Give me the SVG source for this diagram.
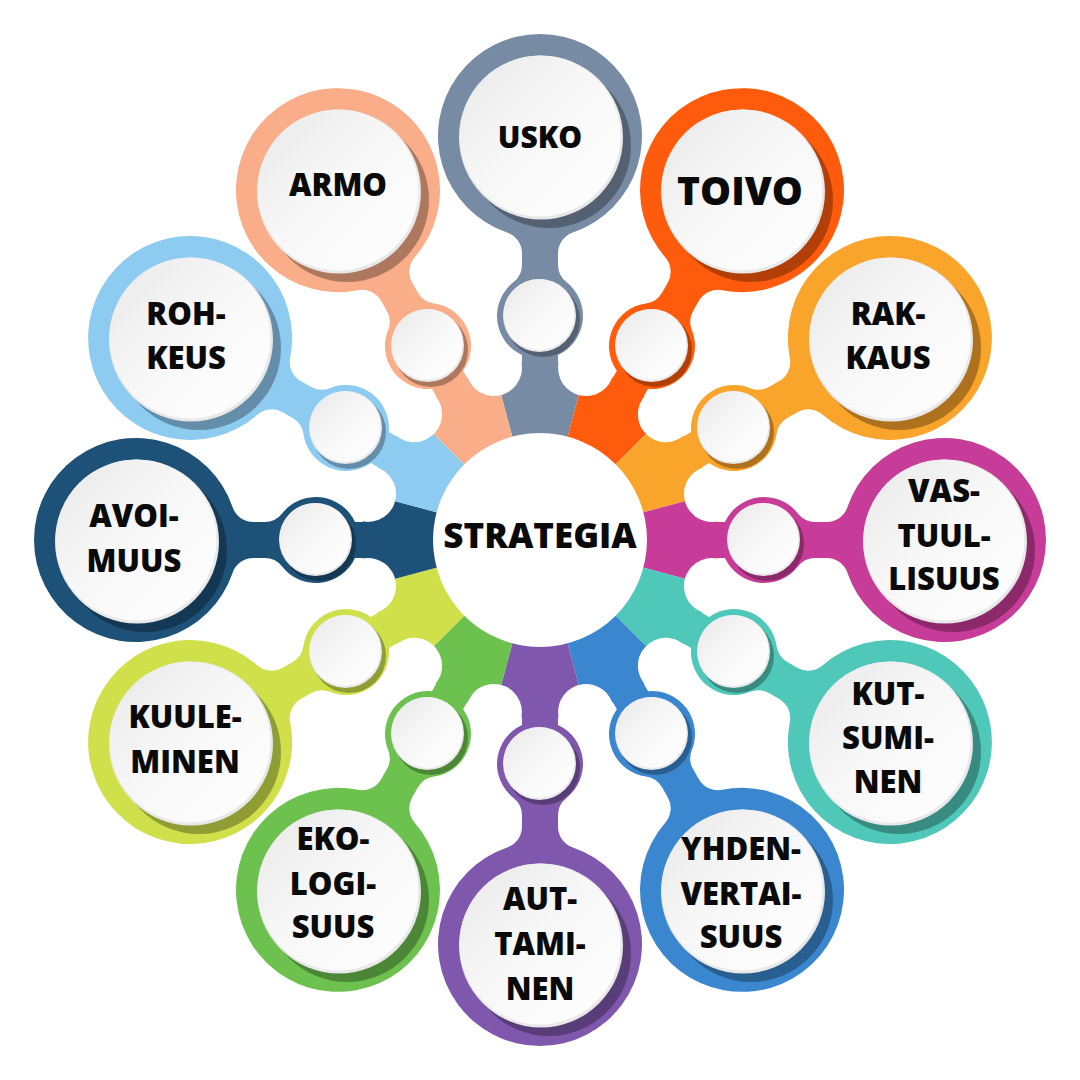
<svg xmlns="http://www.w3.org/2000/svg" width="1080" height="1080" viewBox="0 0 1080 1080">
<style>
.sh{fill:#000;fill-opacity:.3}
.rim{fill:#e8e8e8}
.wd{fill:url(#wg)}
.t{font-family:"Open Sans","Liberation Sans",sans-serif;font-weight:800;font-size:31px;fill:#0a0a0a;text-anchor:middle}
</style>
<defs>
<linearGradient id="wg" x1="0" y1="0" x2="1" y2="1">
<stop offset="0" stop-color="#e8e8e8"/>
<stop offset=".45" stop-color="#f7f7f7"/>
<stop offset="1" stop-color="#ffffff"/>
</linearGradient>
<path id="sector" d="M0 0 L-46.07 -171.93 A178 178 0 0 1 46.07 -171.93 Z"/>
<circle id="finger" cx="46.07" cy="-171.93" r="28" fill="#fff"/>
<path id="petal" d="M-18 -120 L18 -120 L18 -184.95 A43 43 0 0 0 26.46 -257.89 A22 22 0 0 1 18 -275.23 L18 -286.63 A22 22 0 0 1 32.9 -307.45 A102 102 0 1 0 -32.9 -307.45 A22 22 0 0 1 -18 -286.63 L-18 -275.23 A22 22 0 0 1 -26.46 -257.89 A43 43 0 0 0 -18 -184.95 Z"/>
</defs>
<rect width="1080" height="1080" fill="#fff"/>
<g id="connectors">
<use href="#sector" transform="translate(540 540) rotate(0)" fill="#778ca4"/>
<use href="#sector" transform="translate(540 540) rotate(30)" fill="#ff5b0c"/>
<use href="#sector" transform="translate(540 540) rotate(60)" fill="#f9a42b"/>
<use href="#sector" transform="translate(540 540) rotate(90)" fill="#c73c98"/>
<use href="#sector" transform="translate(540 540) rotate(120)" fill="#4fc7b9"/>
<use href="#sector" transform="translate(540 540) rotate(150)" fill="#3a87cf"/>
<use href="#sector" transform="translate(540 540) rotate(180)" fill="#7f58ad"/>
<use href="#sector" transform="translate(540 540) rotate(210)" fill="#6dc24f"/>
<use href="#sector" transform="translate(540 540) rotate(240)" fill="#cfe04b"/>
<use href="#sector" transform="translate(540 540) rotate(270)" fill="#1d5177"/>
<use href="#sector" transform="translate(540 540) rotate(300)" fill="#8ecbf1"/>
<use href="#sector" transform="translate(540 540) rotate(330)" fill="#f9ad89"/>
<use href="#finger" transform="translate(540 540) rotate(0)"/>
<use href="#finger" transform="translate(540 540) rotate(30)"/>
<use href="#finger" transform="translate(540 540) rotate(60)"/>
<use href="#finger" transform="translate(540 540) rotate(90)"/>
<use href="#finger" transform="translate(540 540) rotate(120)"/>
<use href="#finger" transform="translate(540 540) rotate(150)"/>
<use href="#finger" transform="translate(540 540) rotate(180)"/>
<use href="#finger" transform="translate(540 540) rotate(210)"/>
<use href="#finger" transform="translate(540 540) rotate(240)"/>
<use href="#finger" transform="translate(540 540) rotate(270)"/>
<use href="#finger" transform="translate(540 540) rotate(300)"/>
<use href="#finger" transform="translate(540 540) rotate(330)"/>
</g>
<g id="node-strategia">
<circle cx="540" cy="540" r="107" fill="#fff"/>
<text class="t" x="540" y="548" style="font-size:35px">STRATEGIA</text>
</g>
<g id="node-usko">
<use href="#petal" transform="translate(540 540) rotate(0)" fill="#778ca4"/>
<circle class="sh" cx="549" cy="146" r="82"/><circle class="rim" cx="541" cy="137.5" r="82"/><circle class="wd" cx="540" cy="136" r="80.5"/>
<circle class="sh" cx="543" cy="320" r="37"/><circle class="rim" cx="539.5" cy="315.5" r="36.5"/><circle class="wd" cx="539" cy="314.5" r="35.5"/>
<text class="t" x="540" y="148" style="font-size:30px">USKO</text>
</g>
<g id="node-toivo">
<use href="#petal" transform="translate(540 540) rotate(30)" fill="#ff5b0c"/>
<circle class="sh" cx="751" cy="200" r="82"/><circle class="rim" cx="743" cy="191.5" r="82"/><circle class="wd" cx="742" cy="190" r="80.5"/>
<circle class="sh" cx="655" cy="350" r="37"/><circle class="rim" cx="651.5" cy="345.5" r="36.5"/><circle class="wd" cx="651" cy="344.5" r="35.5"/>
<text class="t" x="740" y="205" style="font-size:39px">TOIVO</text>
</g>
<g id="node-rakkaus">
<use href="#petal" transform="translate(540 540) rotate(60)" fill="#f9a42b"/>
<circle class="sh" cx="899" cy="348" r="82"/><circle class="rim" cx="891" cy="339.5" r="82"/><circle class="wd" cx="890" cy="338" r="80.5"/>
<circle class="sh" cx="737" cy="432" r="37"/><circle class="rim" cx="733.5" cy="427.5" r="36.5"/><circle class="wd" cx="733" cy="426.5" r="35.5"/>
<text class="t" x="888" y="325">RAK-</text><text class="t" x="888" y="369">KAUS</text>
</g>
<g id="node-vastuullisuus">
<use href="#petal" transform="translate(540 540) rotate(90)" fill="#c73c98"/>
<circle class="sh" cx="953" cy="550" r="82"/><circle class="rim" cx="945" cy="541.5" r="82"/><circle class="wd" cx="944" cy="540" r="80.5"/>
<circle class="sh" cx="767" cy="544" r="37"/><circle class="rim" cx="763.5" cy="539.5" r="36.5"/><circle class="wd" cx="763" cy="538.5" r="35.5"/>
<text class="t" x="944" y="502">VAS-</text><text class="t" x="944" y="547">TUUL-</text><text class="t" x="944" y="590">LISUUS</text>
</g>
<g id="node-kutsuminen">
<use href="#petal" transform="translate(540 540) rotate(120)" fill="#4fc7b9"/>
<circle class="sh" cx="899" cy="752" r="82"/><circle class="rim" cx="891" cy="743.5" r="82"/><circle class="wd" cx="890" cy="742" r="80.5"/>
<circle class="sh" cx="737" cy="656" r="37"/><circle class="rim" cx="733.5" cy="651.5" r="36.5"/><circle class="wd" cx="733" cy="650.5" r="35.5"/>
<text class="t" x="888" y="705">KUT-</text><text class="t" x="888" y="749">SUMI-</text><text class="t" x="888" y="793">NEN</text>
</g>
<g id="node-yhdenvertaisuus">
<use href="#petal" transform="translate(540 540) rotate(150)" fill="#3a87cf"/>
<circle class="sh" cx="751" cy="900" r="82"/><circle class="rim" cx="743" cy="891.5" r="82"/><circle class="wd" cx="742" cy="890" r="80.5"/>
<circle class="sh" cx="655" cy="738" r="37"/><circle class="rim" cx="651.5" cy="733.5" r="36.5"/><circle class="wd" cx="651" cy="732.5" r="35.5"/>
<text class="t" x="741" y="860">YHDEN-</text><text class="t" x="741" y="905">VERTAI-</text><text class="t" x="741" y="948">SUUS</text>
</g>
<g id="node-auttaminen">
<use href="#petal" transform="translate(540 540) rotate(180)" fill="#7f58ad"/>
<circle class="sh" cx="549" cy="954" r="82"/><circle class="rim" cx="541" cy="945.5" r="82"/><circle class="wd" cx="540" cy="944" r="80.5"/>
<circle class="sh" cx="543" cy="768" r="37"/><circle class="rim" cx="539.5" cy="763.5" r="36.5"/><circle class="wd" cx="539" cy="762.5" r="35.5"/>
<text class="t" x="540" y="910">AUT-</text><text class="t" x="540" y="955">TAMI-</text><text class="t" x="540" y="1000">NEN</text>
</g>
<g id="node-ekologisuus">
<use href="#petal" transform="translate(540 540) rotate(210)" fill="#6dc24f"/>
<circle class="sh" cx="347" cy="900" r="82"/><circle class="rim" cx="339" cy="891.5" r="82"/><circle class="wd" cx="338" cy="890" r="80.5"/>
<circle class="sh" cx="431" cy="738" r="37"/><circle class="rim" cx="427.5" cy="733.5" r="36.5"/><circle class="wd" cx="427" cy="732.5" r="35.5"/>
<text class="t" x="333" y="850">EKO-</text><text class="t" x="333" y="895">LOGI-</text><text class="t" x="333" y="938">SUUS</text>
</g>
<g id="node-kuuleminen">
<use href="#petal" transform="translate(540 540) rotate(240)" fill="#cfe04b"/>
<circle class="sh" cx="199" cy="752" r="82"/><circle class="rim" cx="191" cy="743.5" r="82"/><circle class="wd" cx="190" cy="742" r="80.5"/>
<circle class="sh" cx="349" cy="656" r="37"/><circle class="rim" cx="345.5" cy="651.5" r="36.5"/><circle class="wd" cx="345" cy="650.5" r="35.5"/>
<text class="t" x="185" y="728">KUULE-</text><text class="t" x="185" y="773">MINEN</text>
</g>
<g id="node-avoimuus">
<use href="#petal" transform="translate(540 540) rotate(270)" fill="#1d5177"/>
<circle class="sh" cx="145" cy="550" r="82"/><circle class="rim" cx="137" cy="541.5" r="82"/><circle class="wd" cx="136" cy="540" r="80.5"/>
<circle class="sh" cx="319" cy="544" r="37"/><circle class="rim" cx="315.5" cy="539.5" r="36.5"/><circle class="wd" cx="315" cy="538.5" r="35.5"/>
<text class="t" x="134" y="527">AVOI-</text><text class="t" x="134" y="572">MUUS</text>
</g>
<g id="node-rohkeus">
<use href="#petal" transform="translate(540 540) rotate(300)" fill="#8ecbf1"/>
<circle class="sh" cx="199" cy="348" r="82"/><circle class="rim" cx="191" cy="339.5" r="82"/><circle class="wd" cx="190" cy="338" r="80.5"/>
<circle class="sh" cx="349" cy="432" r="37"/><circle class="rim" cx="345.5" cy="427.5" r="36.5"/><circle class="wd" cx="345" cy="426.5" r="35.5"/>
<text class="t" x="186" y="325">ROH-</text><text class="t" x="186" y="369">KEUS</text>
</g>
<g id="node-armo">
<use href="#petal" transform="translate(540 540) rotate(330)" fill="#f9ad89"/>
<circle class="sh" cx="347" cy="200" r="82"/><circle class="rim" cx="339" cy="191.5" r="82"/><circle class="wd" cx="338" cy="190" r="80.5"/>
<circle class="sh" cx="431" cy="350" r="37"/><circle class="rim" cx="427.5" cy="345.5" r="36.5"/><circle class="wd" cx="427" cy="344.5" r="35.5"/>
<text class="t" x="338" y="196">ARMO</text>
</g>
</svg>
